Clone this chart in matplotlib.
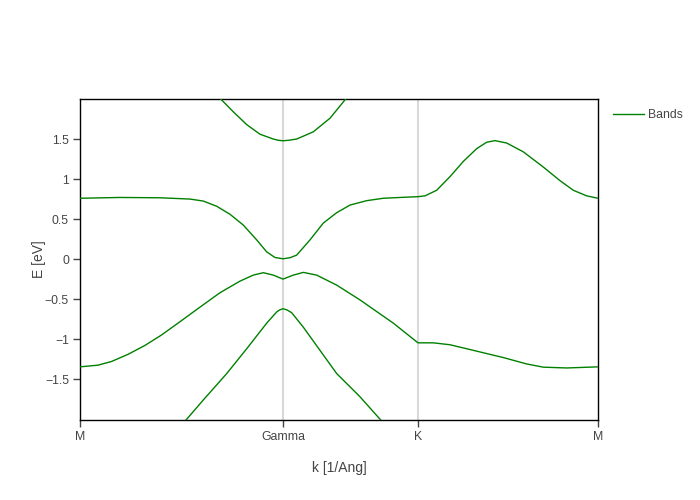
import matplotlib
matplotlib.use('Agg')
import matplotlib.pyplot as plt
from matplotlib.ticker import FuncFormatter

plt.rcParams['font.family'] = ['Liberation Sans', 'DejaVu Sans']

# high symmetry points on the path (1/Ang)
k_ticks = [0.0, 1.015, 1.69, 2.59]
k_labels = ['M', 'Gamma', 'K', 'M']

# band energies (eV), each as (k, E) samples
band1_k = [0.65, 0.7035, 0.7665, 0.8335, 0.90, 0.9665, 0.99, 1.015, 1.045, 1.0835, 1.1665, 1.25, 1.3285, 1.38]
band1_e = [2.14, 2.0, 1.84, 1.68, 1.56, 1.50, 1.485, 1.478, 1.485, 1.50, 1.59, 1.76, 2.0, 2.16]

band2_k = [0, 0.2, 0.4, 0.55, 0.6165, 0.6835, 0.75, 0.8165, 0.8835, 0.9335, 0.975, 1.015,
           1.05, 1.0835, 1.15, 1.2165, 1.2835, 1.35, 1.4335, 1.5165, 1.6, 1.69, 1.725, 1.7835,
           1.85, 1.9165, 1.9835, 2.0335, 2.075, 2.1335, 2.2165, 2.3165, 2.4, 2.4665, 2.5335, 2.59]
band2_e = [0.76, 0.77, 0.766, 0.75, 0.725, 0.66, 0.56, 0.425, 0.24, 0.09, 0.02, 0.004,
           0.017, 0.05, 0.24, 0.45, 0.58, 0.675, 0.73, 0.76, 0.77, 0.78, 0.79, 0.86,
           1.03, 1.22, 1.38, 1.46, 1.48, 1.45, 1.34, 1.15, 0.98, 0.86, 0.79, 0.76]

band3_k = [0, 0.09, 0.1565, 0.24, 0.3235, 0.4065, 0.49, 0.6, 0.7, 0.8, 0.8665, 0.9165,
           0.9665, 1.015, 1.0665, 1.1165, 1.1835, 1.2835, 1.4, 1.5665, 1.69, 1.7665, 1.85,
           1.9835, 2.1165, 2.2335, 2.3165, 2.4335, 2.59]
band3_e = [-1.346, -1.325, -1.28, -1.19, -1.08, -0.95, -0.80, -0.60, -0.42, -0.275, -0.20, -0.17,
           -0.20, -0.25, -0.20, -0.166, -0.20, -0.325, -0.51, -0.80, -1.046, -1.046, -1.07,
           -1.15, -1.23, -1.31, -1.35, -1.36, -1.346]

band4_k = [0.48, 0.5335, 0.6165, 0.7335, 0.8335, 0.9335, 0.9835, 0.998, 1.015, 1.035, 1.0585,
           1.1165, 1.2, 1.2835, 1.4, 1.5, 1.55]
band4_e = [-2.15, -2.0, -1.76, -1.43, -1.12, -0.80, -0.66, -0.635, -0.62, -0.635, -0.67,
           -0.85, -1.14, -1.43, -1.72, -2.0, -2.14]

bands = [(band1_k, band1_e), (band2_k, band2_e), (band3_k, band3_e), (band4_k, band4_e)]

fig = plt.figure(figsize=(7, 5), dpi=100)
ax = fig.add_axes([80/700, 80/500, 518/700, 321/500])

for i, (k, e) in enumerate(bands):
    ax.plot(k, e, color='#008000', linewidth=1.0, label='Bands' if i == 0 else None, zorder=3)

# vertical lines at inner high symmetry points
for kv in k_ticks[1:-1]:
    ax.axvline(kv, color='#d9d9d9', linewidth=1.5, zorder=1)

ax.set_xlim(k_ticks[0], k_ticks[-1])
ax.set_ylim(-2.01, 2.0)
ax.set_xticks(k_ticks)
ax.set_xticklabels(k_labels)
ax.set_yticks([-1.5, -1, -0.5, 0, 0.5, 1, 1.5])
ax.yaxis.set_major_formatter(FuncFormatter(lambda v, p: ('%g' % v).replace('-', '\u2212')))
ax.tick_params(axis='both', colors='#444444', labelsize=8.8, length=5, width=1, pad=3)
for s in ax.spines.values():
    s.set_color('black')
    s.set_linewidth(1.0)

ax.set_xlabel('k [1/Ang]', fontsize=10, color='#444444', labelpad=13)
ax.set_ylabel('E [eV]', fontsize=10, color='#444444', labelpad=-1)

leg = fig.legend(loc='upper left', bbox_to_anchor=(602/700, 1 - 98/500), frameon=False,
                 fontsize=8.8, handlelength=2.5, handletextpad=0.4)
for t in leg.get_texts():
    t.set_color('#444444')

fig.savefig('out.png', dpi=100)
